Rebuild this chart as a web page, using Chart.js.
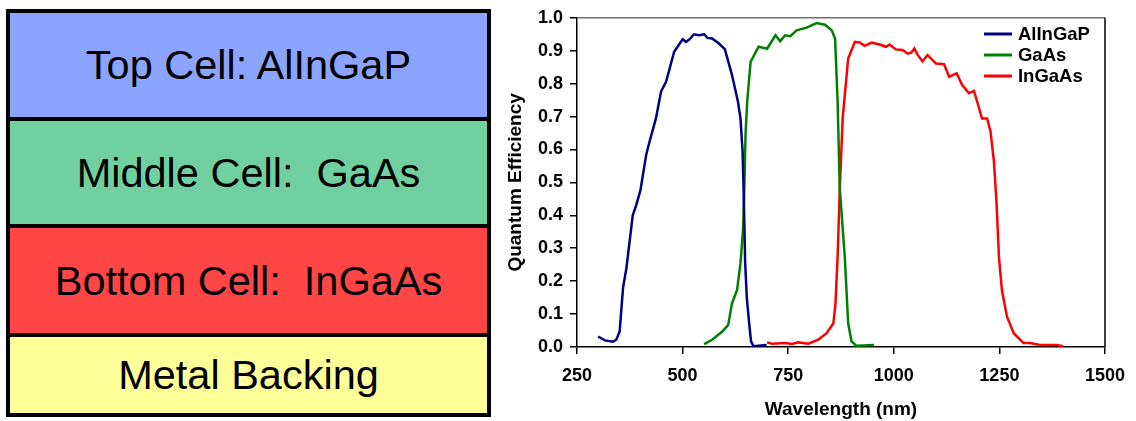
<!DOCTYPE html>
<html>
<head>
<meta charset="utf-8">
<title>Triple junction cell</title>
<script src="https://cdn.jsdelivr.net/npm/chart.js@4"></script>
<style>
  html, body { margin: 0; padding: 0; background: #fff; }
  body { width: 1136px; height: 421px; position: relative; overflow: hidden;
         font-family: "Liberation Sans", Arial, sans-serif; }
  #stack { position: absolute; left: 6px; top: 9px; width: 477px; height: 400px;
           border: 4px solid #000; display: flex; flex-direction: column; }
  .layer { display: flex; align-items: center; justify-content: center;
           font-size: 41.5px; color: #000; white-space: pre; border-top: 4px solid #000; }
  .layer:first-child { border-top: none; }
  #qe-wrap { position: absolute; left: 500px; top: 0; width: 636px; height: 421px; }
</style>
</head>
<body>
<div id="stack"></div>
<div id="qe-wrap"><canvas id="qe-chart"></canvas></div>
<script>
// layer stack, top to bottom
const LAYER_NAMES = ['Top Cell: AlInGaP', 'Middle Cell:  GaAs', 'Bottom Cell:  InGaAs', 'Metal Backing'];
const LAYER_COLORS = ['#8aa4ff', '#70d0a0', '#ff4646', '#ffff99'];
const LAYER_HEIGHTS = [104, 103, 105, 76];

// quantum efficiency curves (wavelength in nm)
const ALINGAP_NM = [300, 316, 335, 343, 351, 359, 367, 382, 390, 400, 414, 422, 437, 449, 461, 480, 500, 508,
  516, 527, 539, 551, 559, 570, 586, 600, 617, 631, 637, 642, 645, 648, 652, 657, 662, 668, 680, 699];
const ALINGAP_QE = [0.032, 0.020, 0.016, 0.022, 0.047, 0.18, 0.24, 0.40, 0.43, 0.475, 0.585, 0.625, 0.695, 0.776,
  0.806, 0.897, 0.935, 0.927, 0.934, 0.950, 0.947, 0.950, 0.939, 0.937, 0.922, 0.905, 0.826, 0.746, 0.695, 0.595,
  0.45, 0.26, 0.15, 0.08, 0.017, 0.002, 0.004, 0.006];

const GAAS_NM = [551, 570, 594, 608, 617, 629, 637, 643, 646, 649, 653, 661, 680, 700, 720, 731, 743, 755, 770,
  794, 817, 837, 853, 861, 867, 872, 884, 892, 900, 911, 953];
const GAAS_QE = [0.009, 0.022, 0.047, 0.067, 0.133, 0.173, 0.253, 0.354, 0.474, 0.645, 0.746, 0.866, 0.912, 0.906,
  0.947, 0.929, 0.947, 0.944, 0.962, 0.970, 0.984, 0.979, 0.962, 0.937, 0.746, 0.484, 0.273, 0.072, 0.017, 0.004, 0.006];

const INGAAS_NM = [700, 712, 743, 759, 774, 798, 821, 841, 857, 862, 867, 872, 879, 892, 908, 919, 931, 948, 966,
  982, 990, 1005, 1021, 1033, 1041, 1049, 1056, 1068, 1080, 1100, 1119, 1131, 1149, 1162, 1178, 1190, 1209, 1221,
  1229, 1237, 1243, 1249, 1256, 1268, 1284, 1307, 1323, 1346, 1386, 1401];
const INGAAS_QE = [0.014, 0.010, 0.012, 0.009, 0.014, 0.010, 0.022, 0.042, 0.072, 0.133, 0.273, 0.474, 0.695, 0.876,
  0.927, 0.925, 0.915, 0.925, 0.919, 0.912, 0.919, 0.904, 0.902, 0.891, 0.894, 0.907, 0.888, 0.868, 0.887, 0.861,
  0.859, 0.821, 0.831, 0.796, 0.771, 0.778, 0.694, 0.694, 0.655, 0.565, 0.444, 0.273, 0.173, 0.092, 0.042, 0.012,
  0.012, 0.006, 0.006, 0.002];

const SERIES_LABELS = ['AlInGaP', 'GaAs', 'InGaAs'];
const SERIES_COLORS = ['#000080', '#008000', '#ff0000'];

const X_TICKS = [250, 500, 750, 1000, 1250, 1500];
const Y_TICKS = [0, 0.1, 0.2, 0.3, 0.4, 0.5, 0.6, 0.7, 0.8, 0.9, 1.0];

const FONT = '"Liberation Sans", Arial, sans-serif';

function buildStack() {
  const stack = document.getElementById('stack');
  LAYER_NAMES.forEach((name, i) => {
    const div = document.createElement('div');
    div.className = 'layer';
    div.style.background = LAYER_COLORS[i];
    div.style.height = LAYER_HEIGHTS[i] + 'px';
    div.textContent = name;
    stack.appendChild(div);
  });
}

function toPoints(xs, ys) {
  return xs.map((x, i) => ({ x: x, y: ys[i] }));
}

// top/right frame of the plot area
const frameBox = {
  id: 'frameBox',
  afterDraw(chart) {
    const { ctx, chartArea: a } = chart;
    ctx.save();
    ctx.lineWidth = 1.5;
    ctx.strokeStyle = '#6e6e6e';
    ctx.beginPath();
    ctx.moveTo(a.left, a.top);
    ctx.lineTo(a.right, a.top);
    ctx.stroke();
    ctx.strokeStyle = '#000';
    ctx.beginPath();
    ctx.moveTo(a.right, a.top);
    ctx.lineTo(a.right, a.bottom);
    ctx.stroke();
    ctx.restore();
  }
};

// legend drawn inside the upper right of the plot
const insideLegend = {
  id: 'insideLegend',
  afterDraw(chart) {
    const ctx = chart.ctx;
    const x0 = chart.chartArea.right - 121;
    ctx.save();
    ctx.font = 'bold 18.5px ' + FONT;
    ctx.textBaseline = 'middle';
    chart.data.datasets.forEach((ds, i) => {
      const y = 34 + i * 21;
      ctx.strokeStyle = ds.borderColor;
      ctx.lineWidth = 3;
      ctx.beginPath();
      ctx.moveTo(x0, y);
      ctx.lineTo(x0 + 28, y);
      ctx.stroke();
      ctx.fillStyle = '#000';
      ctx.fillText(ds.label, x0 + 34, y + 1);
    });
    ctx.restore();
  }
};

function addQuantumEfficiencyChart() {
  const ctx = document.getElementById('qe-chart');
  if (!ctx) {
    return;
  }

  const curves = [toPoints(ALINGAP_NM, ALINGAP_QE), toPoints(GAAS_NM, GAAS_QE), toPoints(INGAAS_NM, INGAAS_QE)];

  new Chart(ctx, {
    type: 'line',
    data: {
      datasets: curves.map((pts, i) => ({
        label: SERIES_LABELS[i],
        data: pts,
        borderColor: SERIES_COLORS[i],
        backgroundColor: SERIES_COLORS[i],
        borderWidth: 2.5,
        pointRadius: 0,
        tension: 0,
        fill: false
      }))
    },
    options: {
      responsive: true,
      maintainAspectRatio: false,
      animation: false,
      layout: { padding: { left: 0, right: 28, top: 16, bottom: 0 } },
      plugins: {
        legend: { display: false },
        tooltip: { enabled: false }
      },
      scales: {
        x: {
          type: 'linear',
          min: X_TICKS[0],
          max: X_TICKS[X_TICKS.length - 1],
          afterBuildTicks: (scale) => { scale.ticks = X_TICKS.map(v => ({ value: v })); },
          afterFit: (scale) => { scale.height = 74; },
          grid: { drawOnChartArea: false, drawTicks: true, tickLength: 7, color: '#000', lineWidth: 1.5 },
          border: { color: '#000', width: 1.5 },
          ticks: {
            color: '#000',
            padding: 11,
            font: { family: FONT, size: 18, weight: 'bold' },
            callback: (v) => String(v)
          },
          title: {
            display: true,
            text: 'Wavelength (nm)',
            color: '#000',
            padding: { top: 0, bottom: 0 },
            font: { family: FONT, size: 19, weight: 'bold' }
          }
        },
        y: {
          min: 0,
          max: 1,
          afterBuildTicks: (scale) => { scale.ticks = Y_TICKS.map(v => ({ value: v })); },
          afterFit: (scale) => { scale.width = 77; },
          grid: { drawOnChartArea: false, drawTicks: true, tickLength: 7, color: '#000', lineWidth: 1.5 },
          border: { color: '#000', width: 1.5 },
          ticks: {
            color: '#000',
            padding: 7,
            font: { family: FONT, size: 18, weight: 'bold' },
            callback: (v) => Number(v).toFixed(1)
          },
          title: {
            display: true,
            text: 'Quantum Efficiency',
            color: '#000',
            padding: { top: 4, bottom: 0 },
            font: { family: FONT, size: 19, weight: 'bold' }
          }
        }
      }
    },
    plugins: [frameBox, insideLegend]
  });
}

buildStack();
addQuantumEfficiencyChart();
</script>
</body>
</html>
